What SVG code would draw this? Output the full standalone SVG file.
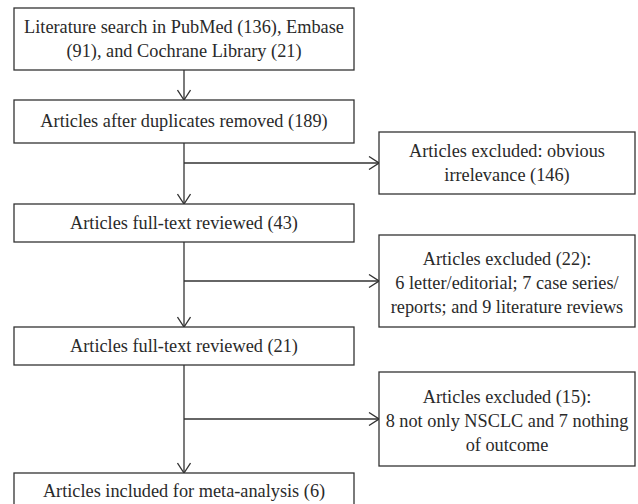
<svg xmlns="http://www.w3.org/2000/svg" width="638" height="504" viewBox="0 0 638 504">
<style>
.box{fill:#fff;stroke:#333;stroke-width:1.3}
.t{font-family:"Liberation Serif","Times New Roman",serif;font-size:18.3px;fill:#2a2a2a;text-anchor:middle}
.c{fill:none;stroke:#333;stroke-width:1.3}
</style>
<defs>
<marker id="arr" viewBox="0 0 12 14" refX="11" refY="7" markerWidth="12" markerHeight="14" markerUnits="userSpaceOnUse" orient="auto">
<polyline points="1,0.5 11,7 1,13.5" fill="none" stroke="#333" stroke-width="1.3"/>
</marker>
</defs>
<rect width="638" height="504" fill="#fff"/>
<g id="connectors">
<line class="c" x1="184" y1="70" x2="184" y2="100" marker-end="url(#arr)"/>
<line class="c" x1="184" y1="143" x2="184" y2="204" marker-end="url(#arr)"/>
<line class="c" x1="184" y1="163" x2="379" y2="163" marker-end="url(#arr)"/>
<line class="c" x1="184" y1="242" x2="184" y2="327" marker-end="url(#arr)"/>
<line class="c" x1="184" y1="281" x2="379" y2="281" marker-end="url(#arr)"/>
<line class="c" x1="184" y1="365" x2="184" y2="473" marker-end="url(#arr)"/>
<line class="c" x1="184" y1="419" x2="379" y2="419" marker-end="url(#arr)"/>
</g>
<g id="n1">
<rect class="box" x="14" y="8" width="340" height="62"/>
<text class="t" x="184" y="33">Literature search in PubMed (136), Embase</text>
<text class="t" x="184" y="57">(91), and Cochrane Library (21)</text>
</g>
<g id="n2">
<rect class="box" x="14" y="100" width="340" height="43"/>
<text class="t" x="184" y="127">Articles after duplicates removed (189)</text>
</g>
<g id="n3">
<rect class="box" x="379" y="132" width="256" height="62"/>
<text class="t" x="507" y="157">Articles excluded: obvious</text>
<text class="t" x="507" y="181">irrelevance (146)</text>
</g>
<g id="n4">
<rect class="box" x="14" y="204" width="340" height="38"/>
<text class="t" x="184" y="229">Articles full-text reviewed (43)</text>
</g>
<g id="n5">
<rect class="box" x="379" y="235" width="256" height="92"/>
<text class="t" x="507" y="265">Articles excluded (22):</text>
<text class="t" x="507" y="289">6 letter/editorial; 7 case series/</text>
<text class="t" x="507" y="313">reports; and 9 literature reviews</text>
</g>
<g id="n6">
<rect class="box" x="14" y="327" width="340" height="38"/>
<text class="t" x="184" y="352">Articles full-text reviewed (21)</text>
</g>
<g id="n7">
<rect class="box" x="379" y="372" width="256" height="94"/>
<text class="t" x="507" y="403">Articles excluded (15):</text>
<text class="t" x="507" y="427">8 not only NSCLC and 7 nothing</text>
<text class="t" x="507" y="451">of outcome</text>
</g>
<g id="n8">
<rect class="box" x="14" y="473" width="340" height="40"/>
<text class="t" x="184" y="497">Articles included for meta-analysis (6)</text>
</g>
</svg>
